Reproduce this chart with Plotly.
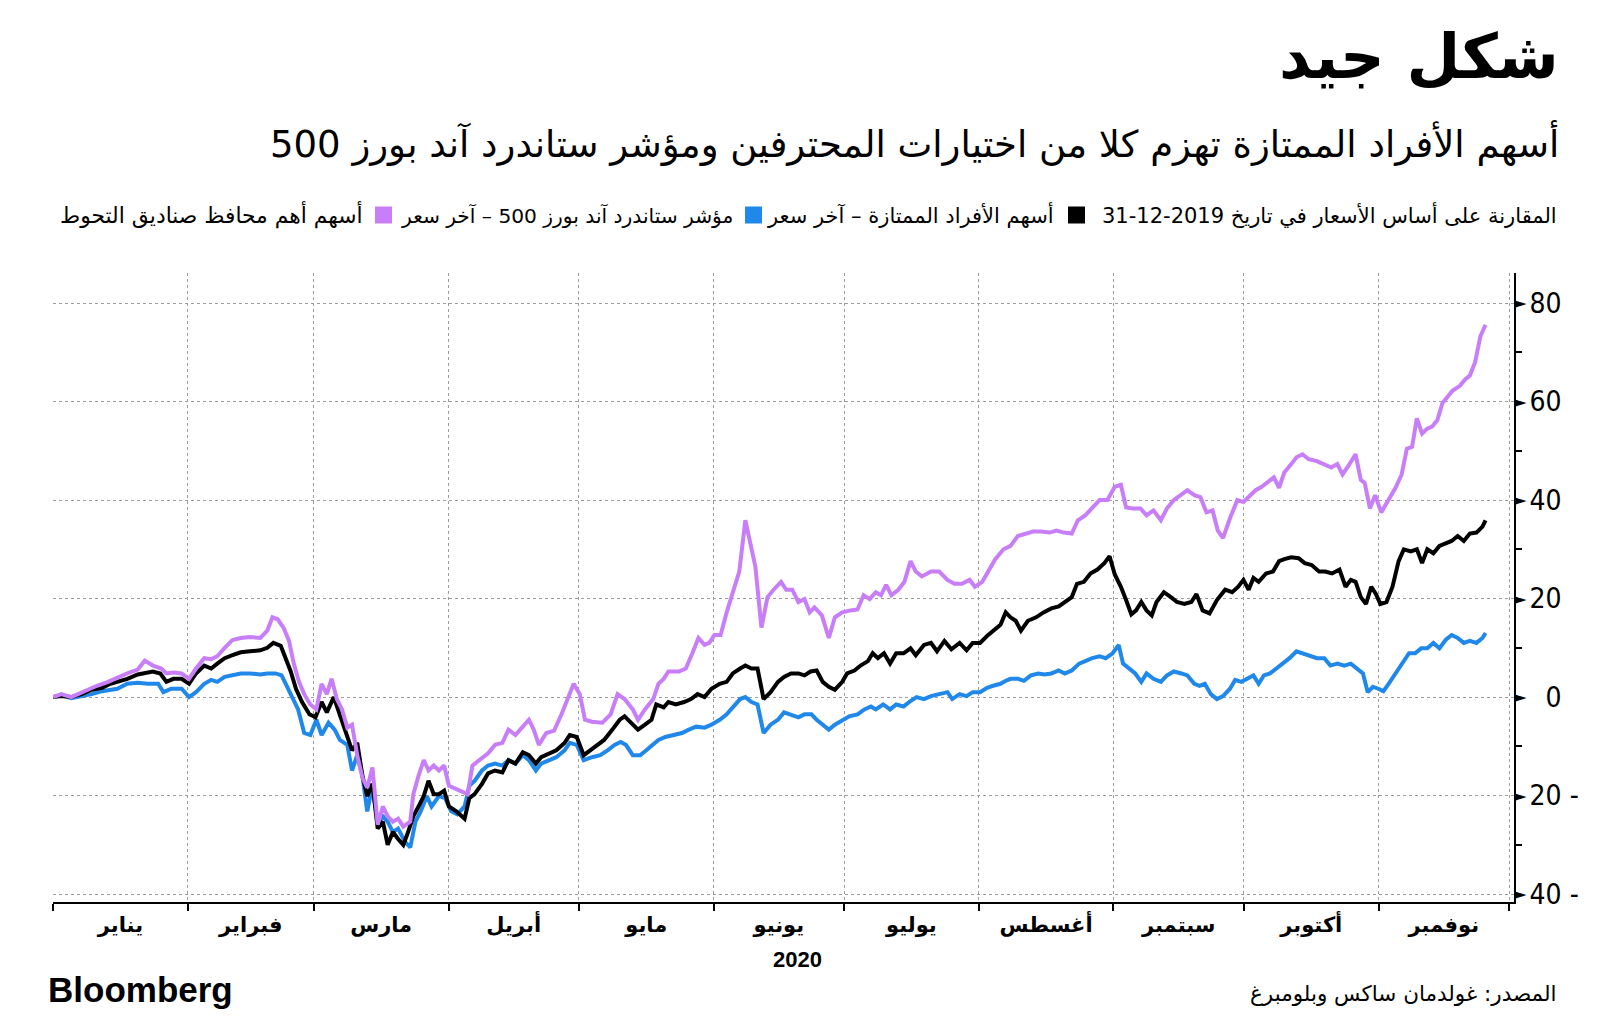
import pandas as pd
import plotly.graph_objects as go

# ---------------- data (days since 2020-01-01, % change vs 2019-12-31) ----------------
purple_days = [0, 1.9, 4.2, 6.6, 10.1, 12.4, 14.8, 17.1, 19.5, 21.1, 23.0, 24.9, 26.1, 27.7, 29.6, 31.3, 32.9,
               34.8, 36.4, 37.8, 39.5, 41.3, 43.2, 45.3, 47.7, 49.3, 50.5, 51.7, 53.1, 54.3, 55.4, 56.6, 57.8,
               59.2, 60.6, 61.8, 63.0, 64.1, 65.3, 66.5, 67.7, 68.8, 70.0, 71.2, 72.3, 73.5, 74.7, 75.9, 77.0,
               78.2, 79.4, 80.6, 82.2, 82.9, 84.1, 85.3, 86.4, 87.6, 88.8, 90.0, 91.1, 93.5, 95.4, 96.5, 98.2,
               100.1, 101.7, 103.4, 104.8, 106.4, 108.1, 109.5, 110.6, 111.8, 113.5, 115.3, 117.0, 118.2, 119.8,
               121.2, 122.4, 124.0, 126.4, 128.3, 129.9, 131.5, 133.4, 134.6, 136.2, 138.1, 139.3, 140.5, 141.6,
               144.0, 145.6, 147.1, 148.5, 149.9, 151.0, 152.2, 153.6, 155.0, 156.4, 157.9, 159.3, 160.4, 161.6,
               163.0, 164.4, 165.8, 167.5, 168.7, 170.1, 171.5, 172.9, 174.1, 175.2, 176.9, 178.5, 179.9, 181.6,
               183.5, 185.1, 186.5, 187.9, 189.3, 190.5, 191.7, 192.9, 194.5, 195.9, 197.3, 198.5, 199.9, 202.0,
               203.9, 205.8, 207.4, 209.1, 210.9, 212.1, 213.8, 215.2, 216.8, 218.7, 220.3, 222.0, 223.9, 225.5,
               227.4, 229.3, 230.9, 232.6, 234.4, 235.8, 237.5, 239.1, 240.8, 242.6, 244.3, 245.7, 246.9, 248.5,
               250.2, 251.6, 253.2, 254.9, 256.3, 257.9, 259.6, 261.0, 262.6, 264.0, 265.4, 266.8, 268.0, 269.2,
               270.8, 272.5, 273.9, 275.5, 276.7, 278.1, 279.5, 280.9, 282.1, 283.3, 284.9, 286.1, 287.5, 288.9,
               290.8, 292.5, 294.1, 295.5, 296.7, 298.3, 299.7, 300.9, 301.8, 303.0, 304.2, 305.6, 307.3, 308.9,
               310.3, 311.5, 312.7, 313.8, 315.0, 316.2, 317.3, 318.5, 319.7, 320.9, 322.0, 323.7, 324.9, 326.0,
               327.2, 328.4, 329.6]
purple_vals = [0, 0.6, 0, 1, 2.3, 3, 4, 4.8, 5.6, 7.4, 6.4, 5.8, 4.8, 5, 4.8, 3.7, 5.8,
               7.9, 7.7, 8.3, 10, 11.6, 12, 12.2, 12, 13.5, 16.2, 15.8, 14, 11.4, 6.8, 3.1, 0.6,
               -1.5, -2.5, 2.7, 0.6, 3.7, -0.4, -2.5, -6.2, -5.6, -11.8, -16.4, -18.4, -14.3, -25.9, -22.2, -24.2,
               -25.3, -24.7, -26.3, -25.3, -19.7, -16, -12.8, -14.9, -13.9, -14.9, -13.9, -18, -19, -19.7, -13.9, -12.8,
               -11.4, -9.7, -9.3, -6.6, -7.7, -6, -4.6, -6.6, -9.7, -7.3, -6.8, -3.5, -1, 2.7,
               0.6, -4.6, -5, -5.2, -3.5, 0.6, -0.4, -2.5, -4.6, -2.5, -0.4, 2.7, 3.7, 5.2,
               5.2, 5.8, 8.9, 12, 10.6, 11, 12.6, 12.6, 17.2, 21.3, 25.5, 35.9, 31.7, 26.5,
               14.1, 20.3, 21.8, 23.4, 21.8, 21.8, 19.3, 19.9, 17.2, 18.2, 16.6, 12, 16.2, 17.2,
               17.6, 17.8, 20.7, 19.9, 21.3, 20.7, 22.8, 20.7, 21.8, 23.4, 27.6, 25.5, 24.5, 25.5,
               25.5, 23.8, 23, 23, 23.8, 22.4, 23.4, 25.5, 28, 30, 30.7, 32.7, 33.2, 33.6,
               33.6, 33.4, 33.8, 33.4, 33.2, 35.9, 36.9, 38.3, 40, 40, 42.7, 43.1, 38.5, 38.3,
               38.3, 36.9, 37.9, 35.9, 38.3, 40, 41, 42, 41, 40.6, 37.5, 37.9, 33.8, 32.3,
               36.3, 40, 39.6, 41, 42, 42.7, 43.7, 44.6, 42.5, 45.6, 47.3, 48.7, 49.3, 48.3,
               47.9, 47.3, 46.6, 47.3, 45.2, 47.3, 49.3, 44.1, 43.5, 38.3, 41, 37.5, 40, 42.5,
               45.2, 50.4, 50.8, 56.6, 53.5, 54.5, 54.9, 56.2, 59.7, 61.1, 62.2, 63.2, 64.5, 65.3,
               68, 73.2, 75.6]

black_days = [0, 1.9, 4.2, 6.6, 8.9, 11.3, 13.2, 14.8, 17.1, 19.5, 21.1, 23.0, 24.7, 26.1, 27.7, 29.6, 31.3,
              32.9, 34.8, 36.4, 37.8, 39.5, 41.3, 43.2, 45.3, 47.7, 49.3, 50.7, 52.4, 53.6, 54.7, 55.9, 57.3,
              59.0, 60.4, 61.8, 63.0, 64.6, 66.0, 67.7, 68.8, 70.0, 71.2, 72.3, 73.5, 74.7, 75.9, 77.0, 78.2,
              79.4, 80.6, 81.7, 82.9, 84.1, 85.3, 86.4, 87.6, 88.8, 90.0, 91.1, 92.8, 94.7, 95.8, 97.0, 98.7,
              100.1, 101.7, 103.4, 104.8, 106.4, 108.1, 109.5, 111.1, 112.3, 114.2, 115.8, 117.7, 118.9, 120.5,
              122.1, 123.6, 125.2, 126.8, 128.7, 130.4, 131.5, 133.0, 134.6, 136.2, 137.7, 138.8, 140.5, 141.6,
              143.3, 145.2, 146.8, 148.3, 149.9, 151.5, 153.4, 155.0, 156.4, 158.1, 159.3, 160.7, 162.1, 163.5,
              165.1, 166.8, 168.2, 169.8, 171.5, 172.9, 174.3, 175.7, 177.1, 178.5, 179.9, 181.6, 182.7, 184.4,
              185.8, 187.5, 188.6, 189.8, 191.2, 192.6, 194.0, 195.7, 197.3, 198.5, 200.4, 202.0, 203.4, 205.1,
              206.7, 208.6, 210.2, 211.6, 213.3, 214.9, 216.3, 218.0, 219.2, 220.3, 221.5, 222.7, 224.3, 226.2,
              227.9, 229.7, 231.4, 232.8, 234.4, 235.6, 237.2, 238.7, 240.3, 241.9, 243.1, 244.3, 245.7, 246.9,
              248.1, 249.2, 250.4, 251.6, 252.8, 253.9, 255.6, 257.2, 258.6, 260.3, 261.9, 263.1, 264.5, 266.1,
              267.8, 269.7, 271.3, 272.7, 273.9, 275.1, 276.2, 277.4, 279.1, 280.7, 282.1, 283.3, 284.9, 286.6,
              288.0, 289.6, 291.3, 292.7, 294.3, 296.0, 297.4, 298.6, 299.7, 300.9, 302.1, 303.3, 304.4, 305.4,
              306.8, 308.2, 309.6, 310.8, 312.4, 313.8, 315.0, 316.2, 317.6, 319.0, 320.4, 321.8, 323.2, 324.6,
              326.0, 327.5, 328.9, 329.6]
black_vals = [0, 0.2, 0, 0.6, 1.5, 1.9, 2.7, 3.1, 3.7, 4.6, 4.8, 5.2, 4.8, 3.1, 3.7, 3.7, 2.7,
              4.8, 6.4, 5.8, 6.8, 7.9, 8.5, 9.1, 9.3, 9.5, 10, 11, 10.4, 7.9, 5.2, 1.7, -1,
              -3.5, -4.1, -1, -3.1, 0, -3.5, -7.7, -10.8, -9.3, -16, -20.1, -17.6, -26.7, -25.3, -30, -27.4,
              -28.8, -30, -27.4, -24.2, -22.2, -20.1, -17, -19.7, -19.7, -19, -22.2, -23.2, -24.7, -20.5, -19.7, -17.6,
              -15.5, -14.9, -15.3, -12.8, -13.5, -11.2, -11.8, -13.5, -12.2, -11.4, -10.8, -9.3, -7.7, -8.1,
              -11.8, -10.8, -9.7, -8.7, -6.6, -4.6, -3.9, -5.2, -6.6, -5.6, -4.6, -1.5, -2.1, -1,
              -1.5, -1, -0.4, 0.6, 0, 1.7, 2.7, 3.1, 4.8, 5.8, 6.4, 5.8, 5.8, -0.4,
              1, 3.1, 4.1, 4.8, 4.8, 4.4, 5.2, 5.4, 3.1, 2.1, 1.5, 3.1, 4.8, 5.4,
              6.4, 7.3, 8.9, 7.9, 8.9, 6.8, 8.9, 8.9, 9.9, 8.5, 10.6, 11, 9.3, 11.4,
              9.7, 11, 9.5, 11, 11, 12.4, 13.5, 14.7, 17.2, 16.2, 15.5, 13.5, 15.5, 16.2,
              17.2, 18, 18.4, 19.3, 20.3, 23, 23.4, 25.1, 25.9, 27.2, 28.6, 24.9, 22.4, 19.7,
              16.8, 17.6, 19.3, 17.6, 16.6, 19.3, 21.3, 20.3, 19.3, 18.9, 19.3, 20.9, 17.6, 17,
              19.7, 21.8, 21.3, 22.4, 23.8, 21.8, 24.2, 23.4, 25.1, 25.5, 27.6, 28, 28.4, 28.2,
              27.2, 26.8, 25.5, 25.5, 25.1, 25.9, 22.4, 23.8, 23.4, 20.3, 18.9, 22.4, 20.9, 18.9,
              19.3, 22.4, 27.6, 30, 29.6, 30, 27.2, 30, 29.2, 30.7, 31.3, 31.7, 32.7, 31.7,
              33.2, 33.4, 34.6, 35.9]

blue_days = [0, 1.9, 4.2, 6.6, 8.9, 11.3, 13.2, 14.8, 17.1, 19.5, 21.8, 24.2, 25.4, 27.2, 29.6, 31.3, 32.9,
             34.8, 36.4, 37.8, 39.5, 41.3, 43.2, 45.3, 47.7, 49.3, 51.2, 52.6, 54.0, 55.2, 56.4, 57.8, 59.2,
             60.6, 61.8, 63.4, 64.8, 66.0, 67.7, 68.8, 70.0, 71.2, 72.3, 73.5, 74.7, 75.9, 77.0, 78.2, 79.4,
             81.0, 82.2, 83.4, 84.6, 86.0, 87.1, 88.8, 90.2, 91.6, 93.0, 94.7, 95.8, 97.0, 98.7, 100.1, 101.7,
             103.4, 104.8, 106.4, 108.1, 109.5, 111.1, 112.3, 114.2, 115.8, 117.7, 118.9, 120.5, 122.1, 124.0,
             125.9, 127.6, 129.2, 130.6, 131.8, 133.4, 135.1, 136.5, 138.1, 139.3, 140.9, 142.8, 144.7, 146.3,
             148.0, 149.9, 151.5, 153.4, 155.0, 156.4, 158.1, 159.3, 160.7, 162.1, 163.5, 165.1, 166.8, 168.2,
             169.8, 171.5, 172.9, 174.5, 175.7, 177.1, 178.5, 179.9, 181.6, 183.2, 185.1, 186.7, 188.2, 189.3,
             191.0, 192.6, 194.0, 195.7, 197.3, 198.7, 200.4, 202.0, 203.9, 205.8, 206.9, 208.6, 210.2, 211.6,
             213.3, 214.9, 216.3, 218.0, 219.2, 220.3, 222.0, 223.4, 225.0, 226.7, 228.1, 229.7, 231.4, 232.8,
             234.4, 236.1, 237.5, 239.1, 240.8, 242.2, 243.8, 245.2, 246.2, 247.6, 249.0, 250.4, 251.6, 253.2,
             254.9, 256.3, 257.9, 259.6, 261.0, 262.6, 263.8, 265.0, 266.4, 267.8, 269.2, 270.8, 272.0, 273.4,
             274.8, 276.2, 277.4, 278.6, 280.0, 281.4, 283.1, 284.5, 286.1, 287.5, 289.2, 290.8, 292.5, 293.9,
             295.5, 297.1, 298.6, 300.2, 301.4, 302.5, 303.7, 304.9, 306.1, 307.3, 308.9, 310.3, 312.0, 313.4,
             314.8, 316.2, 317.6, 319.0, 320.4, 321.8, 323.2, 324.6, 326.0, 327.5, 328.9, 329.6]
blue_vals = [0, 0.4, -0.2, 0.2, 0.6, 1.2, 1.5, 1.7, 2.7, 2.9, 2.7, 2.7, 1, 1.7, 1.7, 0, 1,
             2.7, 3.5, 3.1, 4.1, 4.4, 4.8, 4.8, 4.6, 4.8, 4.8, 4.4, 1.7, -0.4, -2.5, -7.3, -7.7,
             -4.6, -7.7, -5.2, -6.6, -8.7, -9.7, -14.9, -11.8, -16, -23.2, -18, -25.9, -24.2, -25.3, -27.4, -26.7,
             -29.4, -30.5, -25.3, -23.2, -20.1, -22.2, -20.1, -20.5, -23.2, -23.8, -22.2, -18, -17, -14.9, -13.9, -13.5,
             -13.9, -12.8, -13.5, -11.8, -12.8, -14.9, -13.5, -12.8, -12.2, -10.8, -9.3, -9.7, -12.8, -12.2,
             -11.8, -10.8, -9.7, -9.1, -9.7, -11.8, -11.8, -10.8, -9.7, -8.7, -8.1, -7.7, -7.3, -6.6,
             -6, -6.2, -5.6, -4.6, -3.5, -2.1, -0.4, 0, -1, -1.5, -7.3, -5.6, -4.6, -3.1,
             -3.5, -4.1, -3.5, -3.5, -4.6, -5.6, -6.6, -5.6, -4.6, -3.9, -3.5, -2.5, -1.9, -2.5,
             -1.5, -2.5, -1.5, -1.9, -0.8, 0, -0.4, 0.2, 0.6, 1, -0.4, 0.6, 0.2, 1,
             1, 1.9, 2.3, 2.7, 3.3, 3.7, 3.7, 3.3, 4.4, 4.8, 4.6, 4.8, 5.4, 4.8,
             5.4, 6.8, 7.3, 7.9, 8.3, 7.9, 8.9, 10.6, 6.8, 5.8, 4.8, 3.1, 4.8, 3.7,
             3.1, 4.4, 5.2, 4.8, 4.4, 2.7, 2.3, 2.7, 0.6, -0.4, 0.2, 1.7, 3.5, 3.1,
             3.7, 4.4, 2.7, 4.4, 4.8, 5.8, 6.8, 7.9, 9.3, 8.9, 8.3, 7.9, 7.9, 6.4,
             6.8, 6.4, 6.8, 5.8, 4.8, 1, 2.1, 1.7, 1.2, 2.7, 4.8, 6.8, 8.9, 8.9,
             9.9, 9.9, 11, 9.9, 11.6, 12.6, 12, 11, 11.4, 11, 12, 13]

month_names = ["يناير", "فبراير", "مارس", "أبريل", "مايو", "يونيو", "يوليو",
               "أغسطس", "سبتمبر", "أكتوبر", "نوفمبر"]
y_ticks = [-40, -20, 0, 20, 40, 60, 80]
y_tick_labels = ["40 -", "20 -", "\u20070", "20", "40", "60", "80"]

title = "شكل جيد"
subtitle = "أسهم الأفراد الممتازة تهزم كلا من اختيارات المحترفين ومؤشر ستاندرد آند بورز 500"
legend_head = "المقارنة على أساس الأسعار في تاريخ 2019-12-31"
name_black = "أسهم الأفراد الممتازة – آخر سعر"
name_blue = "مؤشر ستاندرد آند بورز 500 – آخر سعر"
name_purple = "أسهم أهم محافظ صناديق التحوط"
source = "المصدر: غولدمان ساكس وبلومبرغ"
year_label = "2020"

C_BLACK = "#000000"
C_BLUE = "#2088ea"
C_PURPLE = "#c87ef8"

# ---------------- figure ----------------
base = pd.Timestamp("2020-01-01")
def to_dates(days):
    return base + pd.to_timedelta(days, unit="D")

RLE, PDF = "\u202b", "\u202c"
AR = "DejaVu Sans"

# page-pixel layout (the page body has an 8px margin)
OFF = 8
FW, FH = 1600 - 2 * OFF, 1019 - 2 * OFF
L, R, T, B = 53, 1514, 273, 902
W, H = R - L, B - T
def px(p):
    return (p - L) / W
def py(p):
    return (B - p) / H

fig = go.Figure()
for days, vals, color, name in [(blue_days, blue_vals, C_BLUE, name_blue),
                                (black_days, black_vals, C_BLACK, name_black),
                                (purple_days, purple_vals, C_PURPLE, name_purple)]:
    fig.add_trace(go.Scatter(x=to_dates(days), y=vals, mode="lines", name=name,
                             line=dict(color=color, width=4), showlegend=False,
                             hoverinfo="skip"))
# empty trace so the pointer axis (y2) is drawn
fig.add_trace(go.Scatter(x=[], y=[], yaxis="y2", showlegend=False, hoverinfo="skip"))

month_starts = pd.date_range("2020-01-01", "2020-12-01", freq="MS")
mids = [month_starts[i] + (month_starts[i + 1] - month_starts[i]) / 2 for i in range(len(month_names))]

y_range = [-41.6, 86.1]
fig.update_layout(
    width=FW, height=FH,
    margin=dict(l=L - OFF, r=FW - (R - OFF), t=T - OFF, b=FH - (B - OFF)),
    paper_bgcolor="white", plot_bgcolor="white",
    font=dict(family=AR, color="black"),
    xaxis=dict(
        type="date",
        range=[base, base + pd.Timedelta(days=336.15)],
        tickvals=mids, ticktext=["<b>%s</b>" % m for m in month_names],
        ticks="", showgrid=False, zeroline=False,
        tickfont=dict(family=AR, size=21, color="black"),
        showline=True, linecolor="black", linewidth=2,
        ticklabelstandoff=3,
        minor=dict(tick0="2020-01-01", dtick="M1", ticks="outside", ticklen=7,
                   tickcolor="black", tickwidth=1.5, showgrid=True,
                   gridcolor="#9c9c9c", griddash="dot", gridwidth=1),
    ),
    yaxis=dict(
        side="right", range=y_range,
        tickvals=y_ticks, ticktext=y_tick_labels,
        ticks="", showgrid=True, gridcolor="#9c9c9c", griddash="dot", gridwidth=1,
        zeroline=False, showline=True, linecolor="black", linewidth=2,
        tickfont=dict(family="Liberation Sans Narrow, DejaVu Sans Condensed, Liberation Sans", size=28,
                      color="black"),
        ticklabelstandoff=8,
        minor=dict(tick0=10, dtick=20, ticks="outside", ticklen=6, tickcolor="black",
                   tickwidth=1.5, showgrid=False),
    ),
    yaxis2=dict(
        overlaying="y", side="right", anchor="x", range=y_range,
        tickvals=y_ticks, ticktext=["►"] * len(y_ticks),
        ticks="", showgrid=False, zeroline=False, showline=False,
        tickfont=dict(family="DejaVu Sans", size=15, color="black"),
        ticklabelstandoff=0, fixedrange=True,
    ),
)

ann = []
ann.append(dict(text="<b>" + RLE + title + PDF + "</b>", x=px(1561), y=py(56), xanchor="right",
                yanchor="middle", font=dict(size=62, family=AR)))
ann.append(dict(text=RLE + subtitle + PDF, x=px(1561), y=py(143), xanchor="right", yanchor="middle",
                font=dict(size=37, family=AR)))
for txt, right, size in [(legend_head, 1559, 21), (name_black, 1056, 21), (name_blue, 735, 20.2),
                         (name_purple, 365, 21.8)]:
    ann.append(dict(text=RLE + txt + PDF, x=px(right), y=py(215), xanchor="right", yanchor="middle",
                    font=dict(size=size, family=AR)))
ann.append(dict(text="<b>" + year_label + "</b>", x=px(797), y=py(959), xanchor="center",
                yanchor="middle", font=dict(size=22, family="Liberation Sans")))
ann.append(dict(text="<b>Bloomberg</b>", x=px(46), y=py(989), xanchor="left", yanchor="middle",
                font=dict(size=35, family="Liberation Sans")))
ann.append(dict(text=RLE + source + PDF, x=px(1559), y=py(993), xanchor="right", yanchor="middle",
                font=dict(size=21.5, family=AR)))
for a in ann:
    a.update(xref="paper", yref="paper", showarrow=False)
fig.update_layout(annotations=ann)

shapes = []
for color, x0 in [(C_BLACK, 1068), (C_BLUE, 745), (C_PURPLE, 375)]:
    shapes.append(dict(type="rect", xref="paper", yref="paper", x0=px(x0), x1=px(x0 + 17),
                       y0=py(223.5), y1=py(206.5), fillcolor=color, line=dict(width=0)))
fig.update_layout(shapes=shapes)

fig.write_html("out.html")
